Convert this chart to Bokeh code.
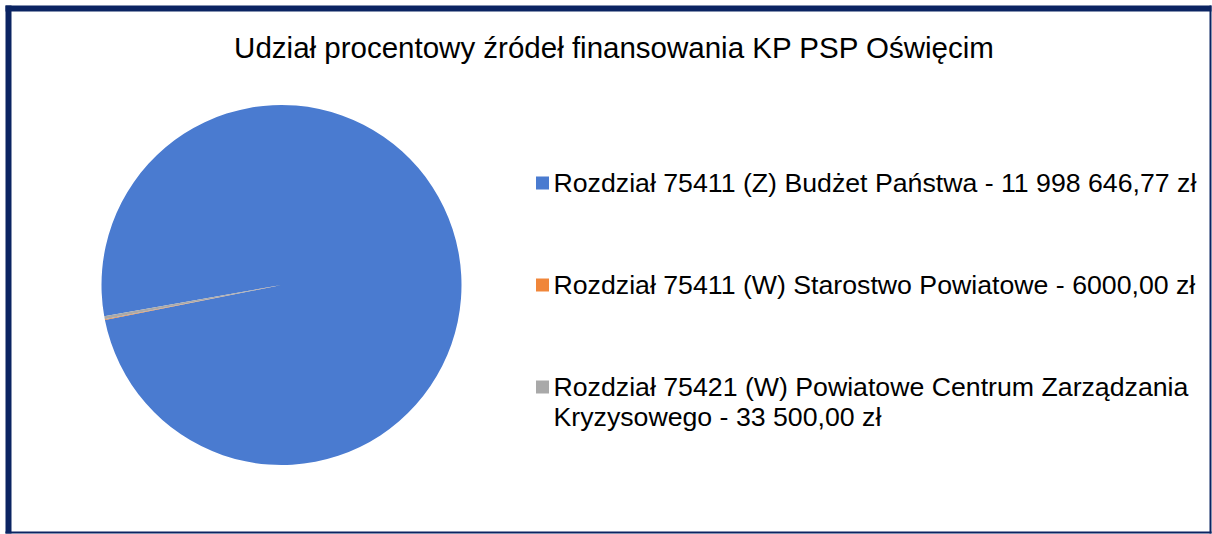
import math
import textwrap
from bokeh.plotting import figure
from bokeh.models import Range1d, ColumnDataSource
from bokeh.core.properties import value
from bokeh.embed import file_html
from bokeh.resources import INLINE

# ---------------- data ----------------
title = "Udział procentowy źródeł finansowania KP PSP Oświęcim"
categories = [
    "Rozdział 75411 (Z) Budżet Państwa",
    "Rozdział 75411 (W) Starostwo Powiatowe",
    "Rozdział 75421 (W) Powiatowe Centrum Zarządzania Kryzysowego",
]
amounts = [11998646.77, 6000.00, 33500.00]
amount_labels = ["11 998 646,77 zł", "6000,00 zł", "33 500,00 zł"]
colors = ["#4a7bd0", "#f0863a", "#a9a9a9"]

# ---------------- layout (data units = screen pixels) ----------------
W, H = 1212, 534
FONT = "Liberation Sans"
p = figure(width=W, height=H, output_backend="svg", toolbar_location=None,
           x_axis_type=None, y_axis_type=None,
           x_range=Range1d(0, W), y_range=Range1d(-H, 0),
           min_border=0)
p.outline_line_color = None
p.background_fill_color = "white"
p.border_fill_color = "white"

navy = "#0b2462"
# frame border (thick left/top, thin right/bottom)
p.quad(left=[5, 5, 1209, 5], right=[11, 1211, 1211, 1211],
       top=[-5, -5, -5, -531], bottom=[-533, -11, -533, -533],
       fill_color=navy, line_color=None)

# ---------------- pie ----------------
total = sum(amounts)
first_slice_angle = 260  # degrees, clockwise from 12 o'clock
start0 = math.radians(90 - first_slice_angle)
starts, ends = [], []
cum = 0.0
for a in amounts:
    frac = a / total
    starts.append(start0 - 2 * math.pi * (cum + frac))
    ends.append(start0 - 2 * math.pi * cum)
    cum += frac
pie_src = ColumnDataSource(dict(start=starts, end=ends, color=colors))
p.wedge(x=281, y=-284.5, radius=180, start_angle="start", end_angle="end",
        fill_color="color", line_color=None, source=pie_src)

# ---------------- title ----------------
p.text(x=[614], y=[-47], text=[title], text_align="center",
       text_baseline="middle", text_font=value(FONT),
       text_font_size="29.5px", text_color="#000000")

# ---------------- legend ----------------
row_y = [-182.5, -284.5, -386.5]
line_gap = 30
sq_x, sq_size = 542, 13
txt_x = 553
lx, ly, lt = [], [], []
for i, (cat, amt) in enumerate(zip(categories, amount_labels)):
    lines = textwrap.wrap(f"{cat} - {amt}", width=53)
    for j, ln in enumerate(lines):
        lx.append(txt_x)
        ly.append(row_y[i] - j * line_gap)
        lt.append(ln)
p.rect(x=[sq_x] * len(categories), y=row_y,
       width=sq_size, height=sq_size, fill_color=colors, line_color=None)
p.text(x=lx, y=ly, text=lt, text_align="left", text_baseline="middle",
       text_font=value(FONT), text_font_size="26.7px", text_color="#000000")

open("out.html", "w").write(file_html(p, INLINE))
